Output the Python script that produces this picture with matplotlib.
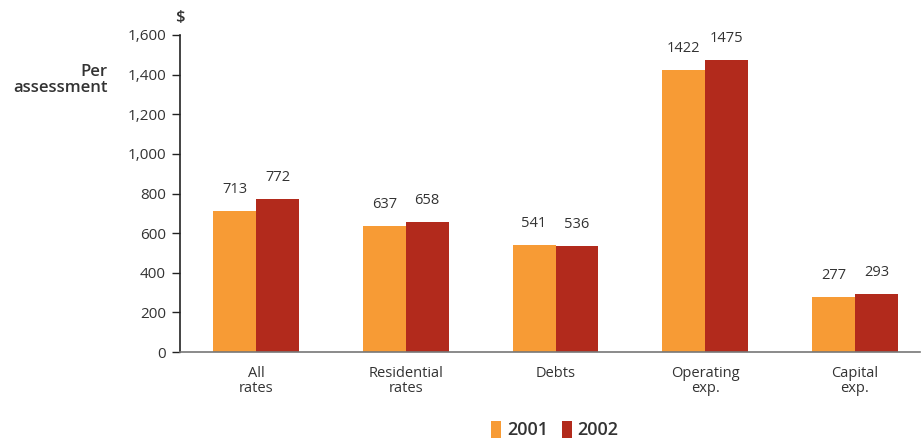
import matplotlib
matplotlib.use("Agg")
import matplotlib.pyplot as plt
from matplotlib.patches import Patch
import numpy as np

categories = ["All\nrates", "Residential\nrates", "Debts", "Operating\nexp.", "Capital\nexp."]
values_2001 = [713, 637, 541, 1422, 277]
values_2002 = [772, 658, 536, 1475, 293]
series_names = ["2001", "2002"]
yticks = [0, 200, 400, 600, 800, 1000, 1200, 1400, 1600]

orange = "#F79B35"
red = "#B22A1C"
text_col = "#333333"

plt.rcParams['font.family'] = ['Open Sans', 'DejaVu Sans']

fig = plt.figure(figsize=(9.23, 4.41), dpi=100)
ax = fig.add_axes([180/923, 89/441, 740/923, 317/441])

x = np.arange(len(categories))
w = 0.287
ax.bar(x - w/2, values_2001, width=w, color=orange, linewidth=0)
ax.bar(x + w/2, values_2002, width=w, color=red, linewidth=0)

for xi, v in zip(x - w/2, values_2001):
    ax.text(xi, v + 70, str(v), ha="center", va="bottom", fontsize=10.5, color=text_col)
for xi, v in zip(x + w/2, values_2002):
    ax.text(xi, v + 70, str(v), ha="center", va="bottom", fontsize=10.5, color=text_col)

ax.set_xlim(-0.5075, 4.434)
ax.set_ylim(0, 1600)
ax.set_yticks(yticks)
ax.set_yticklabels([f"{t:,}" for t in yticks], fontsize=11, color=text_col)
ax.tick_params(axis="y", direction="out", length=6, width=1, color="#222222", pad=4)
ax.set_xticks(x)
ax.set_xticklabels(categories, fontsize=10.5, color=text_col, linespacing=1.0)
ax.tick_params(axis="x", length=0, pad=10)

for s in ["top", "right"]:
    ax.spines[s].set_visible(False)
ax.spines["left"].set_color("#222222")
ax.spines["left"].set_linewidth(1.2)
ax.spines["bottom"].set_color("#777777")
ax.spines["bottom"].set_linewidth(1.2)

fig.text(180/923, 1 - 18/441, "$", ha="center", va="center", fontsize=12, fontweight="semibold", color=text_col)
fig.text(108/923, 1 - 80/441, "Per\nassessment", ha="right", va="center", fontsize=12,
         fontweight="semibold", color=text_col, linespacing=1.0, multialignment="right")

handles = [Patch(facecolor=orange, edgecolor="none"), Patch(facecolor=red, edgecolor="none")]
fig.legend(handles, series_names, loc="center", bbox_to_anchor=(555/923, 1 - 430/441), ncol=2,
           frameon=False, handlelength=0.55, handleheight=1.1, handletextpad=0.3, columnspacing=0.8,
           prop={"size": 13, "weight": "semibold"}, labelcolor=text_col)

fig.savefig("out.png", dpi=100)
